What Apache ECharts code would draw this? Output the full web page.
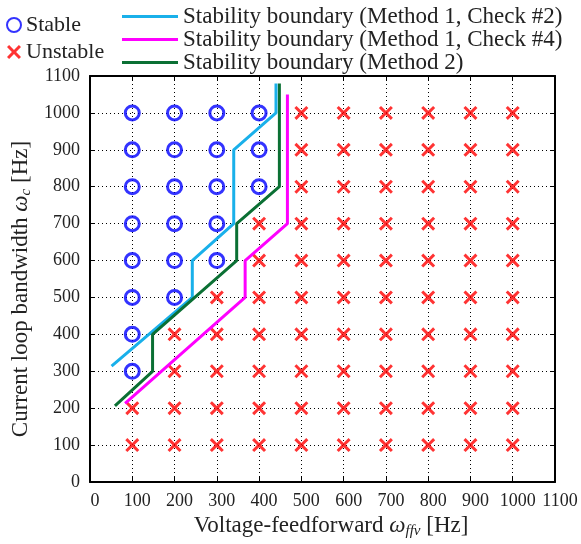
<!DOCTYPE html>
<html>
<head>
    <meta charset="utf-8"/>
    <script src="https://cdn.jsdelivr.net/npm/echarts@6/dist/echarts.min.js"></script>
    <style>
        html, body { margin: 0; padding: 0; background: #fff; }
        #container { width: 581px; height: 544px; }
    </style>
</head>
<body>
<div id="container"></div>
<script type="text/javascript">
    // measured grid: columns of voltage-feedforward values, rows of current loop bandwidth
    var ffvCols = [100, 200, 300, 400, 500, 600, 700, 800, 900, 1000];
    var stableWc = [
        [300, 400, 500, 600, 700, 800, 900, 1000],
        [500, 600, 700, 800, 900, 1000],
        [600, 700, 800, 900, 1000],
        [800, 900, 1000],
        [], [], [], [], [], []
    ];
    var unstableWc = [
        [100, 200],
        [100, 200, 300, 400],
        [100, 200, 300, 400, 500],
        [100, 200, 300, 400, 500, 600, 700],
        [100, 200, 300, 400, 500, 600, 700, 800, 900, 1000],
        [100, 200, 300, 400, 500, 600, 700, 800, 900, 1000],
        [100, 200, 300, 400, 500, 600, 700, 800, 900, 1000],
        [100, 200, 300, 400, 500, 600, 700, 800, 900, 1000],
        [100, 200, 300, 400, 500, 600, 700, 800, 900, 1000],
        [100, 200, 300, 400, 500, 600, 700, 800, 900, 1000]
    ];
    // boundary lines [ffv, wc]
    var boundaryCheck2 = [[51, 314], [242, 500], [242, 600], [340, 700], [340, 900], [440, 1000], [440, 1080]];
    var boundaryCheck4 = [[83, 213], [367, 500], [367, 600], [467, 700], [467, 1050]];
    var boundaryMethod2 = [[59, 206], [148, 300], [148, 400], [347, 600], [347, 700], [448, 800], [448, 1080]];
    var axisTicks = [0, 100, 200, 300, 400, 500, 600, 700, 800, 900, 1000, 1100];

    function toPoints(cols, rows) {
        var out = [];
        for (var i = 0; i < cols.length; i++) {
            for (var j = 0; j < rows[i].length; j++) {
                out.push([cols[i], rows[i][j]]);
            }
        }
        return out;
    }

    var font = 'Liberation Serif';
    var crossPath = 'path://M3,0 L10,7 L17,0 L20,3 L13,10 L20,17 L17,20 L10,13 L3,20 L0,17 L7,10 L0,3 Z';
    var nameRich = {
        i: {fontFamily: font, fontSize: 23, fontStyle: 'italic', color: '#222'},
        s: {fontFamily: font, fontSize: 15, fontStyle: 'italic', color: '#222', padding: [9, 0, 0, 0]}
    };

    function axisBase(pos, showLabel) {
        return {
            type: 'value',
            position: pos,
            min: axisTicks[0],
            max: axisTicks[axisTicks.length - 1],
            interval: 100,
            axisLine: {show: true, onZero: false, lineStyle: {color: '#000', width: 2}},
            axisTick: {show: true, inside: true, length: 5, lineStyle: {color: '#000'}},
            axisLabel: {
                show: showLabel, fontFamily: font, fontSize: 18, color: '#222',
                formatter: function (v) { return String(v); }
            },
            splitLine: {show: false}
        };
    }

    var xMain = axisBase('bottom', true);
    xMain.axisLabel.margin = 10;
    xMain.axisLabel.padding = [0, 0, 0, 10];
    xMain.splitLine = {show: true, lineStyle: {color: '#000', type: [1, 3], width: 1}};
    xMain.name = 'Voltage-feedforward {i|ω}{s|ffv} [Hz]';
    xMain.nameLocation = 'middle';
    xMain.nameGap = 27;
    xMain.nameTextStyle = {fontFamily: font, fontSize: 23, color: '#222', padding: [0, 0, 0, 17], rich: nameRich};
    var xTop = axisBase('top', false);

    var yMain = axisBase('left', true);
    yMain.axisLabel.margin = 10;
    yMain.axisLabel.padding = [6, 0, 0, 0];
    yMain.splitLine = {show: true, lineStyle: {color: '#000', type: [1, 3], width: 1}};
    yMain.name = 'Current loop bandwidth {i|ω}{s|c} [Hz]';
    yMain.nameLocation = 'middle';
    yMain.nameGap = 54;
    yMain.nameTextStyle = {fontFamily: font, fontSize: 23, color: '#222', padding: [0, 20, 0, 0], rich: nameRich};
    var yRight = axisBase('right', false);

    var dom = document.getElementById("container");
    var myChart = echarts.init(dom);
    var option = {
        animation: false,
        grid: {left: 90, right: 26, top: 76, bottom: 62},
        legend: [
            {
                orient: 'vertical',
                left: 1,
                top: 8,
                itemWidth: 14,
                itemHeight: 14,
                itemGap: 3,
                textStyle: {fontFamily: font, fontSize: 22, color: '#222', lineHeight: 24},
                data: ['Stable', 'Unstable']
            },
            {
                orient: 'vertical',
                left: 117,
                top: 0,
                itemWidth: 56,
                itemHeight: 3,
                itemGap: 0,
                icon: 'rect',
                textStyle: {fontFamily: font, fontSize: 23, color: '#222', lineHeight: 14, padding: [8, 0, 0, 0]},
                data: ['Stability boundary (Method 1, Check #2)', 'Stability boundary (Method 1, Check #4)', 'Stability boundary (Method 2)']
            }
        ],
        xAxis: [xMain, xTop],
        yAxis: [yMain, yRight],
        series: [
            {
                name: 'Stable',
                type: 'scatter',
                symbol: 'circle',
                symbolSize: 14,
                itemStyle: {color: 'rgba(0,0,0,0)', borderColor: '#0000ff', borderWidth: 3},
                data: toPoints(ffvCols, stableWc),
                z: 3
            },
            {
                name: 'Unstable',
                type: 'scatter',
                symbol: crossPath,
                symbolSize: 14,
                itemStyle: {color: '#ff0000'},
                data: toPoints(ffvCols, unstableWc),
                z: 3
            },
            {
                name: 'Stability boundary (Method 1, Check #2)',
                type: 'line',
                symbol: 'none',
                lineStyle: {color: '#19b0ea', width: 3},
                itemStyle: {color: '#19b0ea'},
                data: boundaryCheck2,
                z: 4
            },
            {
                name: 'Stability boundary (Method 1, Check #4)',
                type: 'line',
                symbol: 'none',
                lineStyle: {color: '#ff00ff', width: 3},
                itemStyle: {color: '#ff00ff'},
                data: boundaryCheck4,
                z: 4
            },
            {
                name: 'Stability boundary (Method 2)',
                type: 'line',
                symbol: 'none',
                lineStyle: {color: '#0b7034', width: 3},
                itemStyle: {color: '#0b7034'},
                data: boundaryMethod2,
                z: 4
            }
        ]
    };

    if (option && typeof option === "object") {
        myChart.setOption(option, true);
    }
</script>
</body>
</html>
